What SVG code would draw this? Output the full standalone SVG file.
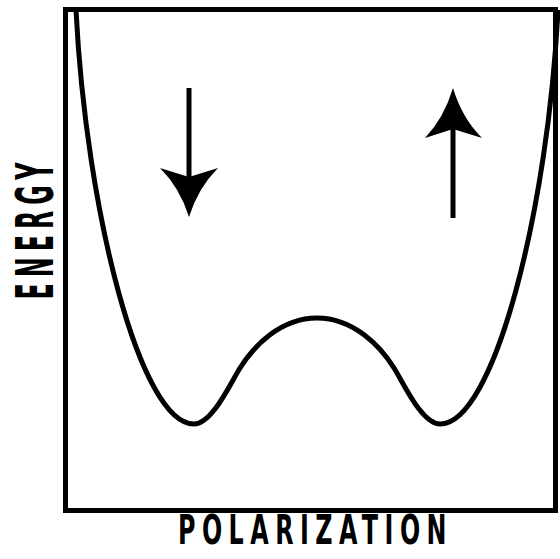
<svg xmlns="http://www.w3.org/2000/svg" width="560" height="559" viewBox="0 0 560 559">
<style>
.ln{fill:none;stroke:#000;stroke-width:5}
.lbl{font-family:"DejaVu Sans Condensed","DejaVu Sans",sans-serif;font-weight:bold;fill:#000}
</style>
<rect width="560" height="559" fill="#fff"/>
<g id="frame"><rect class="ln" x="65.5" y="9.5" width="490" height="501"/></g>
<g id="curve"><path class="ln" stroke-width="4.5" d="M76,10 C86,210 140,424 194,424 C212,424 229.4,385 240,368 C253.3,346.8 280,318 317,318 C354,318 380.7,346.8 394,368 C404.6,385 422,424 440,424 C494,424 548,210 558,10"/></g>
<g id="arrow-down">
<line class="ln" x1="189" y1="88" x2="189" y2="180"/>
<path d="M189,217 Q180,188 160,168 L189,177 L218,168 Q198,188 189,217 Z" fill="#000"/>
</g>
<g id="arrow-up">
<line class="ln" x1="453" y1="218" x2="453" y2="126"/>
<path d="M453,88 Q444,118 425,138 L453,129 L482,138 Q462,118 453,88 Z" fill="#000"/>
</g>
<g id="label-energy"><text class="lbl" transform="translate(53,228) rotate(-90)" text-anchor="middle" font-size="52" letter-spacing="12" textLength="143" lengthAdjust="spacingAndGlyphs">ENERGY</text></g>
<g id="label-polarization"><text class="lbl" x="315.5" y="544" text-anchor="middle" font-size="41" letter-spacing="10" textLength="275" lengthAdjust="spacingAndGlyphs">POLARIZATION</text></g>
</svg>
